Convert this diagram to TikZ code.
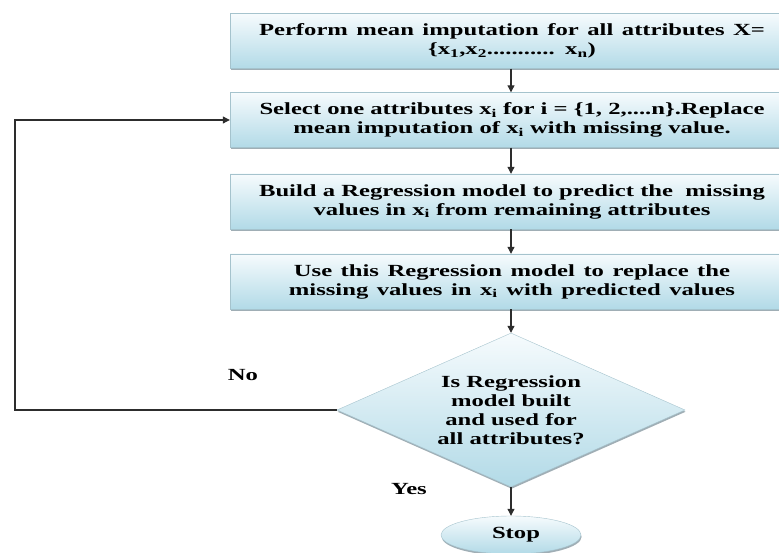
\documentclass[tikz,border=0pt]{standalone}
\usepackage{fontspec}
\setmainfont{Liberation Serif}[FakeStretch=1.45]
\usepackage{tikz}
\usetikzlibrary{shapes.geometric,arrows.meta,shadows}
\definecolor{boxtop}{RGB}{246,251,253}
\definecolor{boxblue}{RGB}{178,218,231}
\definecolor{boxedge}{RGB}{165,195,205}
\definecolor{boxshadow}{RGB}{120,140,150}
\definecolor{linegray}{RGB}{45,45,45}
\newcommand{\widespace}[1]{\spaceskip=#1 plus 1pt\relax}

\tikzset{
	stepbox/.style={rectangle, draw=boxedge, top color=boxtop, bottom color=boxblue,
		minimum width=564pt, minimum height=55pt, align=center, inner sep=2pt,
		drop shadow={shadow xshift=0.6pt, shadow yshift=-1.8pt, opacity=0.7, fill=boxshadow}},
	widebox/.style={stepbox, font=\fontsize{17}{19}\selectfont\bfseries\widespace{8.5pt}},
	decbox/.style={diamond, aspect=2.26, draw=boxedge, top color=boxtop, bottom color=boxblue,
		minimum width=348pt, minimum height=154pt, align=center, inner sep=0pt,
		drop shadow={shadow xshift=0.6pt, shadow yshift=-1.8pt, opacity=0.7, fill=boxshadow}},
	stopbox/.style={ellipse, draw=boxedge, top color=boxtop, bottom color=boxblue,
		minimum width=140pt, minimum height=38pt, inner sep=0pt,
		drop shadow={shadow xshift=0.6pt, shadow yshift=-1.8pt, opacity=0.7, fill=boxshadow}},
	flow/.style={draw=linegray, line width=1.1pt, -{Triangle[length=7pt,width=7pt]}},
	lbl/.style={font=\fontsize{17}{19}\selectfont\bfseries}
}

\begin{document}
\begin{tikzpicture}[x=1pt,y=-1pt,font=\fontsize{17}{19}\selectfont\bfseries]
			\clip (0,0) rectangle (779,553);
			\node[widebox] (mean) at (512,41) {Perform mean imputation for all attributes X=\\ \{x\textsubscript{1},x\textsubscript{2}........... x\textsubscript{n})};
			\node[stepbox] (sel) at (512,120) {Select one attributes x\textsubscript{i} for i = \{1, 2,....n\}.Replace\\ mean imputation of x\textsubscript{i} with missing value.};
			\node[stepbox] (build) at (512,201.5) {Build a Regression model to predict the\ \ missing\\ values in x\textsubscript{i} from remaining attributes};
			\node[widebox] (use) at (512,281.5) {Use this Regression model to replace the\\ missing values in x\textsubscript{i} with predicted values};
			\node[decbox] (dec) at (511,410) {Is Regression\\ model built\\ and used for\\ all attributes?};
			\node[stopbox] (stop) at (511,535) {\hspace*{10pt}Stop};
			\node[lbl] (no) at (243,375) {No};
			\node[lbl] (yes) at (409,489) {Yes};
			\coordinate (loop) at (15,410);
			\draw[flow] (mean.south -| dec.north) -- (sel.north -| dec.north);
			\draw[flow] (sel.south -| dec.north) -- (build.north -| dec.north);
			\draw[flow] (build.south -| dec.north) -- (use.north -| dec.north);
			\draw[flow] (use.south -| dec.north) -- (dec.north);
			\draw[flow] (dec.south) -- (stop.north);
			\draw[flow] (dec.west) -- (loop) |- (sel.west);
		\end{tikzpicture}
\end{document}
